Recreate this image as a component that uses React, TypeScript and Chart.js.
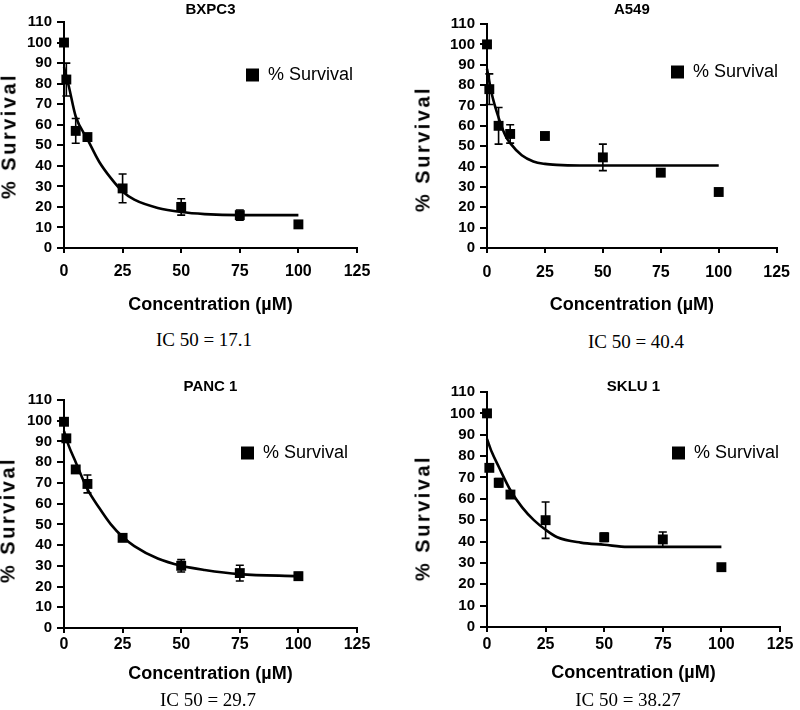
import React, { useEffect, useRef } from "react";
import { Chart, registerables } from "chart.js";

Chart.register(...registerables);

// ---------- data ----------
const concentrations = [0, 1, 5, 10, 25, 50, 75, 100];
const xTickValues = [0, 25, 50, 75, 100, 125];
const yTickValues = [0, 10, 20, 30, 40, 50, 60, 70, 80, 90, 100, 110];

const bxpc3Survival = [100, 82, 57, 54, 29, 20, 16, 11.5];
const bxpc3Error = [0, 8, 6, 0, 7, 4, 2.5, 0];
const bxpc3FitX = [0, 2, 5, 10, 15, 20, 25, 30, 40, 50, 60, 75, 100];
const bxpc3FitY = [88, 79, 64, 53, 42, 34, 27.5, 23.5, 19.5, 17.5, 16.5, 16, 16];

const a549Survival = [100, 78, 60, 56, 55, 44.5, 37, 27.5];
const a549Error = [0, 7.5, 9, 4.5, 0, 6.5, 0, 0];
const a549FitX = [0, 2, 5, 8, 10, 15, 20, 25, 30, 40, 60, 100];
const a549FitY = [88, 76, 64, 55, 51.5, 45.5, 42.5, 41.3, 40.8, 40.5, 40.5, 40.5];

const panc1Survival = [99.5, 91.5, 76.5, 69.5, 43.5, 30, 26.5, 25];
const panc1Error = [0, 0, 0, 4.3, 0, 3, 3.8, 1.8];
const panc1FitX = [0, 2, 5, 10, 15, 20, 25, 30, 40, 50, 60, 75, 100];
const panc1FitY = [95, 88, 80, 67, 58, 50, 44, 39.5, 33.5, 30, 28, 26, 25];

const sklu1Survival = [100, 74.5, 67.5, 62, 50, 42, 41, 28];
const sklu1Error = [0, 0, 2, 0, 8.5, 2, 3.5, 0];
const sklu1FitX = [0, 2, 5, 10, 15, 20, 25, 30, 40, 50, 60, 75, 100];
const sklu1FitY = [88, 82, 75, 64, 56, 50, 45.5, 42, 39.5, 38.5, 37.5, 37.5, 37.5];

const cellLines = ["BXPC3", "A549", "PANC 1", "SKLU 1"];
const ic50Values = ["17.1", "40.4", "29.7", "38.27"];
const seriesLabel = "% Survival";
const xAxisLabel = "Concentration (\u00B5M)";

// ---------- layout (styles only) ----------
type Layout = {
  left: number; top: number; width: number; height: number;
  padRight: number; yWidth: number; titleCenter: number; chartTop: number; chartBottom: number;
  xTickPad: number; xTitlePad: number; legendX: number; legendY: number;
  yTitleX: number; yTitleY: number; icX: number; icY: number;
};

const layouts: Layout[] = [
  { left: 0, top: 0, width: 400, height: 320, padRight: 43, yWidth: 64, titleCenter: 10, chartTop: 22, chartBottom: 248,
    xTickPad: 9, xTitlePad: 4.2, legendX: 246, legendY: 66, yTitleX: 9, yTitleY: 136, icX: 204, icY: 340 },
  { left: 400, top: 0, width: 400, height: 320, padRight: 12, yWidth: 87, titleCenter: 10, chartTop: 24, chartBottom: 248,
    xTickPad: 10, xTitlePad: 4.2, legendX: 271, legendY: 63, yTitleX: 423, yTitleY: 149, icX: 636, icY: 342 },
  { left: 0, top: 360, width: 400, height: 330, padRight: 43, yWidth: 64, titleCenter: 27, chartTop: 40, chartBottom: 268,
    xTickPad: 2.4, xTitlePad: 5.2, legendX: 241, legendY: 84, yTitleX: 8, yTitleY: 520, icX: 208, icY: 700 },
  { left: 400, top: 360, width: 400, height: 330, padRight: 20, yWidth: 87, titleCenter: 27, chartTop: 32, chartBottom: 267,
    xTickPad: 3.4, xTitlePad: 6.2, legendX: 272, legendY: 84, yTitleX: 423, yTitleY: 518, icX: 628, icY: 700 },
];

const survivals = [bxpc3Survival, a549Survival, panc1Survival, sklu1Survival];
const errors = [bxpc3Error, a549Error, panc1Error, sklu1Error];
const fitXs = [bxpc3FitX, a549FitX, panc1FitX, sklu1FitX];
const fitYs = [bxpc3FitY, a549FitY, panc1FitY, sklu1FitY];

const SANS = "'Liberation Sans', Arial, sans-serif";

function Panel({ index }: { index: number }) {
  const ref = useRef<HTMLCanvasElement | null>(null);
  const L = layouts[index];

  useEffect(() => {
    if (!ref.current) return;
    const ys = survivals[index];
    const errs = errors[index];

    const errorBars = {
      id: "errorBars",
      afterDatasetsDraw(chart: any) {
        const { ctx } = chart;
        const xs = chart.scales.x;
        const yS = chart.scales.y;
        ctx.save();
        ctx.strokeStyle = "#000";
        ctx.lineWidth = 1.6;
        concentrations.forEach((xv, i) => {
          const e = errs[i];
          if (!e) return;
          const px = xs.getPixelForValue(xv);
          const top = yS.getPixelForValue(ys[i] + e);
          const bot = yS.getPixelForValue(ys[i] - e);
          ctx.beginPath();
          ctx.moveTo(px, top);
          ctx.lineTo(px, bot);
          ctx.moveTo(px - 4, top);
          ctx.lineTo(px + 4, top);
          ctx.moveTo(px - 4, bot);
          ctx.lineTo(px + 4, bot);
          ctx.stroke();
        });
        ctx.restore();
      },
    };

    const legendPlacer = {
      id: "legendPlacer",
      beforeDraw(chart: any) {
        const lg = chart.legend;
        if (!lg) return;
        lg.left = L.legendX;
        lg.top = L.legendY;
        lg.width = 150;
        lg.height = 30;
        lg.right = L.legendX + 150;
        lg.bottom = L.legendY + 30;
      },
    };

    const titleLine = 9;
    const chart = new Chart(ref.current, {
      type: "scatter",
      data: {
        datasets: [
          {
            label: seriesLabel,
            data: concentrations.map((x, i) => ({ x, y: ys[i] })),
            pointStyle: "rect",
            pointRadius: 7,
            pointHoverRadius: 7,
            backgroundColor: "#000",
            borderColor: "#000",
            borderWidth: 0,
            showLine: false,
            clip: false,
          },
          {
            label: "fit",
            data: fitXs[index].map((x, i) => ({ x, y: fitYs[index][i] })),
            showLine: true,
            pointRadius: 0,
            borderColor: "#000",
            backgroundColor: "#000",
            borderWidth: 2.6,
            cubicInterpolationMode: "monotone",
            fill: false,
            clip: false,
          } as any,
        ],
      },
      options: {
        responsive: false,
        animation: false,
        devicePixelRatio: 1,
        layout: { padding: { left: 0, right: L.padRight, top: 0, bottom: 0 } },
        plugins: {
          title: {
            display: true,
            text: cellLines[index],
            fullSize: false,
            color: "#000",
            font: { family: SANS, size: 15, weight: "bold", lineHeight: titleLine / 15 },
            padding: { top: L.titleCenter - titleLine / 2, bottom: L.chartTop - L.titleCenter - titleLine / 2 },
          },
          legend: {
            display: true,
            position: "chartArea",
            align: "start",
            labels: {
              usePointStyle: true,
              boxWidth: 13,
              boxHeight: 13,
              padding: 0,
              color: "#000",
              font: { family: SANS, size: 18, weight: "normal" },
              filter: (item: any) => item.datasetIndex === 0,
            },
          },
          tooltip: { enabled: false },
        },
        scales: {
          x: {
            type: "linear",
            min: 0,
            max: 125,
            afterBuildTicks: (scale: any) => {
              scale.ticks = xTickValues.map((v) => ({ value: v }));
            },
            afterFit: (scale: any) => {
              scale.height = L.height - L.chartBottom;
            },
            ticks: {
              color: "#000",
              padding: L.xTickPad,
              autoSkip: false,
              font: { family: SANS, size: 16, weight: "bold" },
              maxRotation: 0,
            },
            grid: { drawOnChartArea: false, drawTicks: true, tickLength: 5, color: "#000", lineWidth: 2 },
            border: { display: true, color: "#000", width: 2 },
            title: {
              display: true,
              text: xAxisLabel,
              color: "#000",
              font: { family: SANS, size: 18, weight: "bold" },
              padding: { top: 0, bottom: L.xTitlePad },
            },
          },
          y: {
            type: "linear",
            min: 0,
            max: 110,
            afterBuildTicks: (scale: any) => {
              scale.ticks = yTickValues.map((v) => ({ value: v }));
            },
            afterFit: (scale: any) => {
              scale.width = L.yWidth;
            },
            ticks: {
              color: "#000",
              padding: 5,
              autoSkip: false,
              font: { family: SANS, size: 15, weight: "bold", lineHeight: 1 },
            },
            grid: { drawOnChartArea: false, drawTicks: true, tickLength: 7, color: "#000", lineWidth: 2 },
            border: { display: true, color: "#000", width: 2 },
          },
        },
      } as any,
      plugins: [errorBars, legendPlacer],
    });
    return () => chart.destroy();
  }, [index]);

  return (
    <>
      <canvas
        ref={ref}
        width={L.width}
        height={L.height}
        style={{ position: "absolute", left: L.left, top: L.top, width: L.width, height: L.height }}
      />
      <div
        style={{
          position: "absolute",
          left: L.yTitleX,
          top: L.yTitleY,
          transform: "translate(-50%, -50%) rotate(-90deg)",
          whiteSpace: "nowrap",
          font: `bold 20px ${SANS}`,
          letterSpacing: "2.5px",
          color: "#000",
        }}
      >
        {seriesLabel}
      </div>
      <div
        style={{
          position: "absolute",
          left: L.icX,
          top: L.icY,
          transform: "translate(-50%, -50%)",
          whiteSpace: "nowrap",
          font: "19px 'Liberation Serif', 'Times New Roman', serif",
          color: "#000",
        }}
      >
        {`IC 50 = ${ic50Values[index]}`}
      </div>
    </>
  );
}

export default function App() {
  return (
    <div style={{ position: "absolute", left: 0, top: 0, width: 800, height: 710, background: "#fff", overflow: "hidden" }}>
      {cellLines.map((_, i) => (
        <Panel key={i} index={i} />
      ))}
    </div>
  );
}
